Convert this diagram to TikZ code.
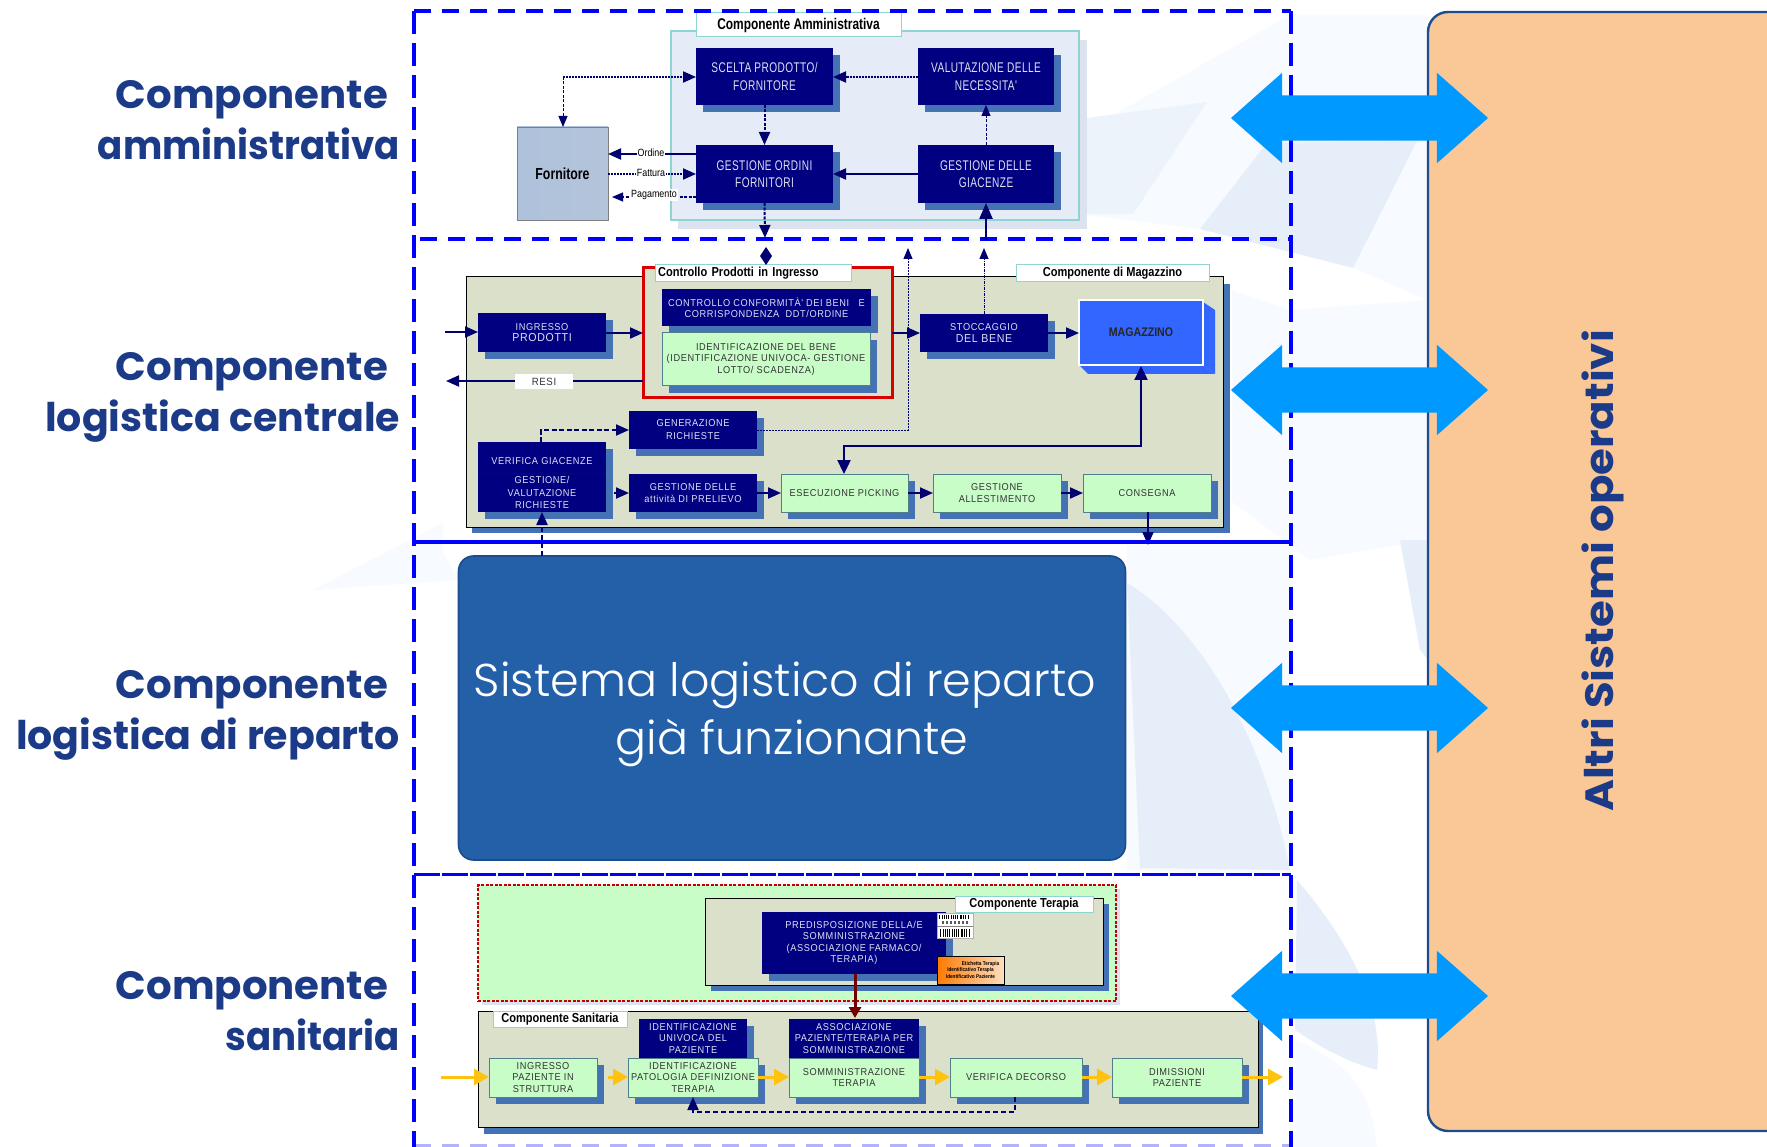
\documentclass[tikz,border=0pt]{standalone}
\usepackage{fontspec}
\usetikzlibrary{arrows.meta,shapes.geometric,shapes.arrows}
\setmainfont{Liberation Sans}
\newfontfamily\adf[FakeStretch=0.72,LetterSpace=3]{Liberation Sans}
\newfontfamily\lgf[FakeStretch=0.92,LetterSpace=6]{Liberation Sans}
\newfontfamily\ttf[FakeStretch=0.85]{Liberation Sans}
\newfontfamily\ttg[FakeStretch=0.77]{Liberation Sans}
\newfontfamily\lab{Poppins}
\newfontfamily\labw[FakeStretch=1.1]{Poppins}
\newfontfamily\labn[FakeStretch=0.94]{Poppins}
\newfontfamily\labc[FakeStretch=1.02]{Poppins}
\newfontfamily\sis{Poppins Light}
\definecolor{navyc}{HTML}{000080}
\definecolor{linec}{HTML}{00006E}
\definecolor{shadc}{HTML}{4472B4}
\definecolor{greenc}{HTML}{C8FDC8}
\definecolor{greenb}{HTML}{4F7F88}
\definecolor{panelc}{HTML}{DBE0CB}
\definecolor{tealb}{HTML}{8FD3D3}
\definecolor{labcol}{HTML}{1B3A87}
\definecolor{bluedash}{HTML}{0000FF}
\definecolor{arrc}{HTML}{0099FF}
\definecolor{yel}{HTML}{FFC30F}
\definecolor{blktxt}{HTML}{DDE2F2}
\definecolor{pale}{HTML}{E6EFF9}
\definecolor{midc}{HTML}{EDF3FB}
\definecolor{paler}{HTML}{F7FAFE}
\definecolor{sisc}{HTML}{2460A8}
\definecolor{sisb}{HTML}{1C4C8E}
\definecolor{magc}{HTML}{3366FF}
\definecolor{peach}{HTML}{FAC896}
\definecolor{forl}{HTML}{AEC2DC}
\definecolor{form}{HTML}{E4E8F0}
\definecolor{forr}{HTML}{B4C4DA}
\definecolor{admp}{HTML}{E6ECF7}
\definecolor{adms}{HTML}{DCE2EE}
\tikzset{
  bx/.style={inner sep=0pt,outer sep=0pt,align=center},
  navyb/.style={bx,fill=navyc,text=blktxt},
  greenbx/.style={bx,fill=greenc,draw=greenb,line width=1pt,text=black!80},
  panelb/.style={bx,fill=panelc,draw=black,line width=1pt},
  titleb/.style={bx,fill=white,draw=tealb,line width=1pt,text=black},
  fa/.style={font=\adf\fontsize{14}{17.5}\selectfont},
  fl/.style={font=\lgf\fontsize{10}{11.5}\selectfont},
  fm/.style={font=\lgf\fontsize{10}{13}\selectfont},
  ft/.style={font=\ttf\bfseries\fontsize{13}{14}\selectfont},
  ar/.style={draw=linec,line width=2pt,arrows={-Triangle[length=13pt,width=11pt]}},
  dar/.style={ar,dash pattern=on 3pt off 1.5pt},
  tdar/.style={draw=linec,line width=1pt,dash pattern=on 3pt off 1.5pt,arrows={-Triangle[length=11pt,width=9pt]}},
  yar/.style={draw=yel,line width=3pt,arrows={-Triangle[length=15pt,width=16pt]}},
  bluel/.style={draw=bluedash,line width=3.2pt},
  vdash/.style={bluel,dash pattern=on 23pt off 9pt},
  hdash/.style={bluel,dash pattern=on 17pt off 11pt},
  lbl/.style={font=\lab\bfseries\fontsize{39.5}{51}\selectfont,text=labcol,inner sep=0pt,outer sep=0pt,anchor=east},
  lblc/.style={lbl,font=\labc\bfseries\fontsize{39.5}{51}\selectfont},
  lbln/.style={lbl,font=\labn\bfseries\fontsize{39.5}{51}\selectfont},
  bigarr/.style={double arrow,double arrow head extend=22.5pt,double arrow tip angle=83,minimum height=257pt,inner xsep=0pt,inner ysep=22.5pt,outer sep=0pt,fill=arrc},
  smt/.style={font=\ttf\fontsize{10.5}{12}\selectfont,text=black,inner sep=1pt,outer sep=0pt}
}
\newcommand{\mybox}[7]{%
  \fill[shadc] ({#2+7},{#3+7}) rectangle ({#4+7},{#5+7});
  \pgfmathsetmacro\bw{#4-#2}\pgfmathsetmacro\bh{#5-#3}%
  \node[#6,minimum width=\bw pt,minimum height=\bh pt] (#1) at ({(#2+#4)/2},{(#3+#5)/2}) {#7};%
}
\newcommand{\plainbox}[7]{%
  \pgfmathsetmacro\bw{#4-#2}\pgfmathsetmacro\bh{#5-#3}%
  \node[#6,minimum width=\bw pt,minimum height=\bh pt] (#1) at ({(#2+#4)/2},{(#3+#5)/2}) {#7};%
}
\begin{document}
\begin{tikzpicture}[x=1pt,y=-1pt]
\useasboundingbox (0,0) rectangle (1767,1147);
% background swooshes
\fill[white] (0,0) rectangle (1767,1147);
\fill[paler] (1087,130) -- (1290,15) -- (1427,15) -- (1427,300) -- (1290,240) -- (1087,215) -- cycle;
\fill[midc] (1087,118) -- (1207,102) -- (1133,214) -- (1087,214) -- cycle;
\fill[pale] (1200,229) -- (1267,143) -- (1417,141) -- (1353,268) -- cycle;
\fill[paler] (1230,290) -- (1290,310) -- (1427,300) -- (1427,540) -- (1310,560) -- (1230,500) -- cycle;
\fill[paler] (1127,545) -- (1290,545) -- (1290,875) -- (1127,870) -- cycle;
\fill[pale] (1127,583) .. controls (1190,620) and (1260,720) .. (1290,870) -- (1140,868) -- cycle;
\fill[pale] (1297,880) .. controls (1340,930) and (1385,1000) .. (1377,1070) .. controls (1340,1060) and (1310,1040) .. (1295,1030) -- cycle;
\fill[paler] (1295,1040) .. controls (1340,1060) and (1370,1080) .. (1377,1147) -- (1295,1147) -- cycle;
\fill[pale] (1400,540) -- (1428,540) -- (1428,660) -- (1420,650) -- cycle;
\fill[paler] (313,590) -- (443,523) -- (443,553) -- (460,580) -- cycle;
% white image grounds
\fill[white] (445,250) rectangle (1232,540);
\fill[white] (470,878) rectangle (1285,1135);
% component admin
\fill[adms] (678,40) rectangle (1087,229);
\plainbox{pa}{671}{31}{1079}{220}{bx,fill=admp,draw=tealb,line width=1.2pt}{}
\plainbox{ta}{696}{13}{901}{37}{titleb,font=\ttg\bfseries\fontsize{15.5}{17}\selectfont}{Componente Amministrativa}
\mybox{sc}{696}{48}{833}{105}{navyb,fa}{SCELTA PRODOTTO/\\FORNITORE}
\mybox{va}{918}{48}{1054}{105}{navyb,fa}{VALUTAZIONE DELLE\\NECESSITA'}
\mybox{go}{696}{145}{833}{203}{navyb,fa}{GESTIONE ORDINI\\FORNITORI}
\mybox{gg}{918}{145}{1054}{203}{navyb,fa}{GESTIONE DELLE\\GIACENZE}
\plainbox{fo}{517}{127}{608}{220}{bx,left color=forl,middle color=form,right color=forr,draw=gray,line width=.8pt,font=\ttg\bfseries\fontsize{16}{17}\selectfont,text=black}{Fornitore}
\coordinate (fx) at (563,77);
\draw[dar,dash pattern=on 2pt off 1pt] (fx) -- (sc.west |- fx);
\draw[tdar] (fx) -- (fx |- fo.north);
\draw[dar,dash pattern=on 2pt off 1pt] (va.west |- fx) -- (sc.east |- fx);
\draw[dar] (sc.south) -- (go.north);
\draw[ar] (go.west |- 0,154) -- (fo.east |- 0,154);
\draw[dar,dash pattern=on 2pt off 1pt] (fo.east |- 0,174) -- (go.west |- 0,174);
\draw[tdar,line width=1.2pt] (go.west |- 0,197) -- (612,197);
\draw[ar] (gg.west |- 0,174) -- (go.east |- 0,174);
\draw[tdar] (gg.north) -- (va.south);
\node[smt,fill=white] (lo) at (651,153) {Ordine};
\node[smt,fill=white] (lf) at (651,173) {Fattura};
\node[smt,fill=white] (lp) at (654,195) {Pagamento};
% logistics panel
\fill[shadc] (472,284) rectangle (1230,533);
\plainbox{pl}{466}{277}{1223}{527}{panelb}{}
\draw[red!85!black,line width=3pt,fill=panelc] (643,268) rectangle (892,398);
\plainbox{tc}{655}{265}{851}{282}{titleb,ft,text width=194pt,align=left}{\,Controllo Prodotti in Ingresso}
\plainbox{tm}{1016}{265}{1209}{282}{titleb,ft}{Componente di Magazzino}
\mybox{co}{662}{289}{871}{326}{navyb,fl}{CONTROLLO CONFORMITÀ' DEI BENI\ \ \ E\\CORRISPONDENZA\ \ DDT/ORDINE}
\mybox{id}{662}{333}{870}{386}{greenbx,fl}{IDENTIFICAZIONE DEL BENE\\(IDENTIFICAZIONE UNIVOCA- GESTIONE\\LOTTO/ SCADENZA)}
\mybox{in}{478}{313}{606}{352}{navyb,fl}{INGRESSO\\{\fontsize{11.5}{12}\selectfont PRODOTTI}}
\plainbox{rc}{643}{268}{892}{398}{bx}{}
\coordinate (ia) at (445,332);
\draw[ar] (ia) -- (in.west |- ia);
\draw[ar] (in.east |- 0,333) -- (rc.west |- 0,333);
\coordinate (ra) at (446,381);
\plainbox{re}{515}{374}{573}{389}{bx,fill=white,text=black!80,font=\lgf\fontsize{10.5}{12}\selectfont}{RESI}
\draw[draw=linec,line width=2pt] (rc.west |- ra) -- (re.east |- ra);
\draw[ar] (re.west |- ra) -- (ra);
\mybox{ge}{629}{411}{757}{449}{navyb,fm}{GENERAZIONE\\RICHIESTE}
\mybox{ve}{478}{442}{606}{512}{navyb,fl}{\rule{0pt}{19pt}VERIFICA GIACENZE\\[8pt]GESTIONE/\\[1pt]VALUTAZIONE\\[1pt]RICHIESTE}
\draw[navyc!70!blue,line width=.6pt] (ve.west |- 0,473) -- (ve.east |- 0,473);
\mybox{at}{629}{474}{757}{512}{navyb,fl}{GESTIONE DELLE\\attività DI PRELIEVO}
\mybox{es}{781}{474}{908}{512}{greenbx,fl}{ESECUZIONE PICKING}
\mybox{al}{933}{474}{1061}{512}{greenbx,fl}{GESTIONE\\ALLESTIMENTO}
\mybox{cn}{1083}{474}{1211}{512}{greenbx,fl}{CONSEGNA}
\mybox{st}{920}{314}{1048}{352}{navyb,fl}{STOCCAGGIO\\{\fontsize{11.5}{12}\selectfont DEL BENE}}
% magazzino
\fill[magc] (1203,302) -- (1215,310) -- (1215,374) -- (1203,365) -- cycle;
\fill[magc] (1079,365) -- (1203,365) -- (1215,374) -- (1088,374) -- cycle;
\plainbox{ma}{1079}{300}{1203}{365}{bx,fill=magc,draw=white,line width=1.4pt,text=black!85,font=\ttf\bfseries\fontsize{12.5}{13}\selectfont}{MAGAZZINO}
\draw[ar] (rc.east |- 0,333) -- (st.west |- 0,333);
\draw[ar] (st.east |- 0,333) -- (ma.west |- 0,333);
\coordinate (w1) at (541,430);
\draw[dar,dash pattern=on 5pt off 2.5pt] (ve.north -| w1) -- (w1) -- (ge.west |- w1);
\coordinate (w2) at (908,430);
\coordinate (t2) at (908,248);
\draw[tdar,dash pattern=on 2pt off 1pt,line width=.9pt] (ge.east |- w2) -- (w2) -- (t2);
\coordinate (t3) at (984,248);
\draw[tdar,dash pattern=on 3pt off 1pt on 1pt off 1pt] (st.north -| t3) -- (t3);
\coordinate (w3) at (844,446);
\coordinate (w4) at (1141,446);
\coordinate (w5) at (1141,366);
\draw[draw=linec,line width=2.4pt,arrows={Triangle[length=14pt,width=13pt]-Triangle[length=14pt,width=13pt]}] (es.north -| w3) -- (w3) -- (w4) -- (w5);
\draw[ar] (614,493) -- (at.west |- 0,493);
\draw[ar] (at.east |- 0,493) -- (es.west |- 0,493);
\draw[ar] (es.east |- 0,493) -- (al.west |- 0,493);
\draw[ar] (al.east |- 0,493) -- (cn.west |- 0,493);
\coordinate (t4) at (1148,545);
\draw[ar] (cn.south -| t4) -- (t4);
% sanitaria
\fill[adms] (482,889) rectangle (1120,1005);
\plainbox{gz}{478}{885}{1116}{1001}{bx,fill=greenc,draw=red!75!black,line width=1.2pt,dash pattern=on 3pt off 1.5pt}{}
\fill[shadc] (711,904) rectangle (1109,991);
\plainbox{pt}{705}{898}{1103}{985}{panelb}{}
\plainbox{tt}{955}{896}{1093}{912}{titleb,ft}{Componente Terapia}
\mybox{pr}{762}{912}{946}{974}{navyb,fl}{PREDISPOSIZIONE DELLA/E\\SOMMINISTRAZIONE\\(ASSOCIAZIONE FARMACO/\\TERAPIA)}
\plainbox{bc}{937}{913}{973}{938}{bx,fill=white,draw=gray!60,line width=.4pt}{}
\foreach \i/\w in {0/1,2.5/.8,4.5/1.4,7/.7,9/1.2,11.5/.8,13.5/1.5,16/.8,18/1.3,20.5/.7,22/1.1,24/.8,26/1.4,28.5/.8}{
  \fill[black] ({939+\i},914.5) rectangle ({939+\i+\w},918.5);
  \fill[black] ({940+\i},929) rectangle ({940+\i+\w},936.5);
}
\draw[gray,line width=.4pt] (937,926) -- (973,926);
\foreach \i in {3,7,11,15,19,23,27}{\fill[black!65] ({939+\i},921) rectangle ({940+\i+1},924);}
\plainbox{or}{937}{956}{1004}{984}{bx,left color=orange!95!red,right color=orange!25!white,draw=black,line width=1pt,font=\ttf\bfseries\fontsize{5.5}{6.7}\selectfont,text=black}{\hspace*{20pt}Etichetta Terapia\\Identificativo Terapia\\Identificativo Paziente}
\fill[shadc] (484,1018) rectangle (1263,1134);
\plainbox{ps}{478}{1011}{1258}{1127}{panelb}{}
\plainbox{ts}{493}{1011}{627}{1027}{titleb,ft}{Componente Sanitaria}
\mybox{iu}{639}{1019}{747}{1058}{navyb,fl}{IDENTIFICAZIONE\\UNIVOCA DEL\\PAZIENTE}
\mybox{as}{789}{1019}{919}{1058}{navyb,fl}{ASSOCIAZIONE\\PAZIENTE/TERAPIA PER\\SOMMINISTRAZIONE}
\mybox{ip}{489}{1058}{597}{1097}{greenbx,fl}{INGRESSO\\PAZIENTE IN\\STRUTTURA}
\mybox{pa2}{628}{1058}{758}{1097}{greenbx,fl}{IDENTIFICAZIONE\\PATOLOGIA DEFINIZIONE\\TERAPIA}
\mybox{so}{789}{1058}{919}{1097}{greenbx,fl}{SOMMINISTRAZIONE\\TERAPIA}
\mybox{vd}{950}{1058}{1082}{1097}{greenbx,fl}{VERIFICA DECORSO}
\mybox{di}{1112}{1058}{1242}{1097}{greenbx,fl}{DIMISSIONI\\PAZIENTE}
\coordinate (ya) at (441,1077);
\coordinate (yb) at (1283,1077);
\draw[yar] (ya) -- (ip.west |- ya);
\draw[yar] (608,1077) -- (pa2.west |- ya);
\draw[yar] (pa2.east |- ya) -- (so.west |- ya);
\draw[yar] (so.east |- ya) -- (vd.west |- ya);
\draw[yar] (vd.east |- ya) -- (di.west |- ya);
\draw[yar] (di.east |- ya) -- (yb);
\coordinate (ra2) at (855,1018);
\draw[draw=red!45!black,line width=3pt,arrows={-Triangle[length=11pt,width=12pt]}] (pr.south -| ra2) -- (ra2);
\coordinate (d1) at (1015,1112);
\coordinate (d2) at (693,1112);
\draw[dar,dash pattern=on 5pt off 3pt] (vd.south -| d1) -- (d1) -- (d2) -- (pa2.south -| d2);
% frame of dashed lines
\draw[hdash] (414,11) -- (1291,11);
\draw[hdash] (420,239) -- (1291,239);
\draw[bluel] (414,542) -- (1291,542);
\draw[bluel,dash pattern=on 26pt off 2pt] (414,874.5) -- (1291,874.5);
\draw[hdash,draw=bluedash!30] (414,1146) -- (1291,1146);
\draw[vdash] (414,11) -- (414,1147);
\draw[vdash] (1291,11) -- (1291,1147);
% link arrows over the frame
\coordinate (t1) at (765,238);
\draw[dar] (go.south) -- (t1);
\node[diamond,fill=linec,inner sep=0pt,outer sep=0pt,minimum width=12pt,minimum height=18pt] (dia) at (766,256) {};
\coordinate (t5) at (986,240);
\draw[draw=linec,line width=2.4pt,arrows={-Triangle[length=16pt,width=13pt]}] (t5) -- (gg.south -| t5);
% Sistema box
\node[bx,rounded corners=15pt,fill=sisc,draw=sisb,line width=1.6pt,minimum width=667pt,minimum height=304pt] (si) at (792,708) {};
\node[bx,text=white,font=\sis\fontsize{46}{58}\selectfont] (sit) at (785,714) {Sistema logistico di reparto\\\hspace*{14pt}già funzionante};
\coordinate (t6) at (542,512);
\draw[dar,line width=2.2pt,dash pattern=on 5pt off 3pt] (si.north -| t6) -- (t6);
% labels
\node[lblc] (l1) at (388,100) {Componente};
\node[lbln] (l2) at (400,144) {amministrativa};
\node[lblc] (l3) at (388,372) {Componente};
\node[lbl] (l4) at (400,421) {logistica centrale};
\node[lblc] (l5) at (388,690) {Componente};
\node[lbl] (l6) at (400,739) {logistica di reparto};
\node[lblc] (l7) at (388,991) {Componente};
\node[lbln] (l8) at (400,1035) {sanitaria};
% right box
\draw[draw=sisb,line width=2.4pt,fill=peach,rounded corners=20pt] (1428,12) rectangle (1800,1131);
\node[lbl,anchor=center,rotate=90,font=\labw\bfseries\fontsize{39.5}{51}\selectfont] (alt) at (1603,571) {Altri Sistemi operativi};
% big arrows
\node[bigarr] (b1) at (1359.5,118) {};
\node[bigarr] (b2) at (1359.5,390) {};
\node[bigarr] (b3) at (1359.5,708) {};
\node[bigarr] (b4) at (1359.5,996) {};
\end{tikzpicture}
\end{document}
